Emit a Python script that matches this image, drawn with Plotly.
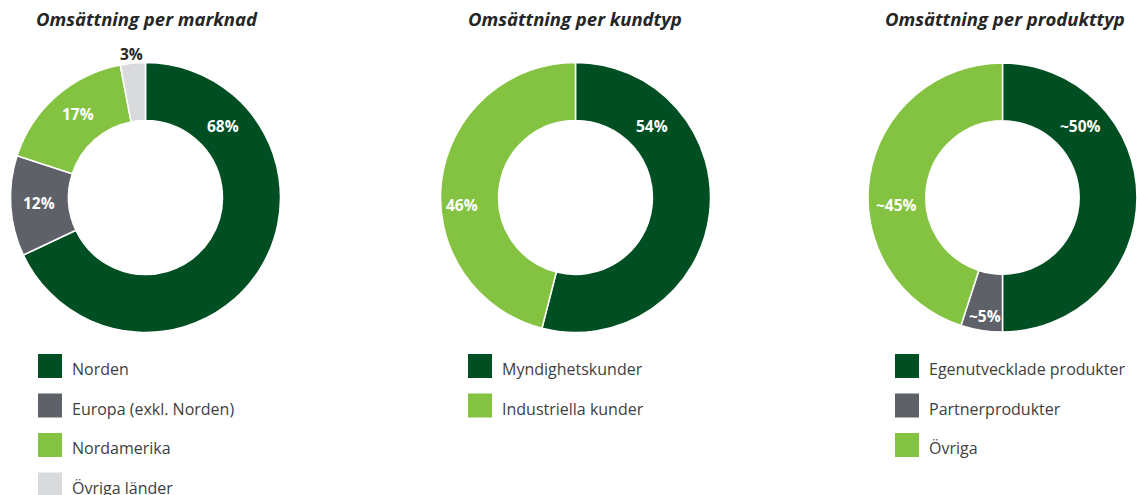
import math
import plotly.graph_objects as go

W, H = 1137, 495

# ---- data ----
titles = ["Omsättning per marknad", "Omsättning per kundtyp", "Omsättning per produkttyp"]

market_labels = ["Norden", "Europa (exkl. Norden)", "Nordamerika", "Övriga länder"]
market_values = [68, 12, 17, 3]
market_text = ["68%", "12%", "17%", "3%"]

customer_labels = ["Myndighetskunder", "Industriella kunder"]
customer_values = [54, 46]
customer_text = ["54%", "46%"]

product_labels = ["Egenutvecklade produkter", "Partnerprodukter", "Övriga"]
product_values = [50, 5, 45]
product_text = ["~50%", "~5%", "~45%"]

# ---- styles ----
DARK = "#004F23"
GREY = "#5E6168"
LIGHT = "#84C341"
PALE = "#D9DADC"
FONT = "Open Sans"

charts = [
    dict(labels=market_labels, values=market_values, text=market_text,
         colors=[DARK, GREY, LIGHT, PALE], cx=145.5, cy=197.5,
         lab_ang=[47.3, 267.0, 321.0, 354.3], lab_r=[105, 107, 107, 144],
         lab_col=["white", "white", "white", "#262626"],
         legend_x=38, title_cx=147),
    dict(labels=customer_labels, values=customer_values, text=customer_text,
         colors=[DARK, LIGHT], cx=575.5, cy=197.5,
         lab_ang=[47.0, 266.0], lab_r=[105, 114],
         lab_col=["white", "white"],
         legend_x=468, title_cx=575),
    dict(labels=product_labels, values=product_values, text=product_text,
         colors=[DARK, GREY, LIGHT], cx=1003, cy=197.5,
         lab_ang=[47.5, 188.5, 266.0], lab_r=[106, 120, 107],
         lab_col=["white", "white", "white"],
         legend_x=895, title_cx=1005),
]
R = 135
HOLE = 0.57
SQ = 24
LEG_Y0 = 354
LEG_STEP = 39.5

fig = go.Figure()
annotations = []
shapes = []

for i, c in enumerate(charts):
    x0 = max(0, (c["cx"] - R) / W)
    x1 = min(1, (c["cx"] + R) / W)
    y0 = 1 - (c["cy"] + R) / H
    y1 = 1 - (c["cy"] - R) / H
    fig.add_trace(go.Pie(
        labels=c["labels"], values=c["values"],
        domain=dict(x=[x0, x1], y=[y0, y1]),
        hole=HOLE, sort=False, direction="clockwise", rotation=0,
        marker=dict(colors=c["colors"], line=dict(color="white", width=1.5)),
        textinfo="none", showlegend=False, hoverinfo="label+percent",
    ))
    # actual center used by plotly (domain may be clipped)
    cxp = (x0 + x1) / 2 * W
    rr = min((x1 - x0) * W, (y1 - y0) * H) / 2
    scale = rr / R
    for t, ang, r, col in zip(c["text"], c["lab_ang"], c["lab_r"], c["lab_col"]):
        a = math.radians(ang)
        px = cxp + r * scale * math.sin(a)
        py = c["cy"] - r * scale * math.cos(a)
        annotations.append(dict(
            x=px / W, y=1 - py / H, xref="paper", yref="paper",
            text=f"<b>{t}</b>", showarrow=False,
            font=dict(family=FONT, size=15.5, color=col),
            xanchor="center", yanchor="middle"))
    # title
    annotations.append(dict(
        x=c["title_cx"] / W, y=1 - 18 / H, xref="paper", yref="paper",
        text=f"<b><i>{titles[i]}</i></b>", showarrow=False,
        font=dict(family=FONT, size=18.5, color="#262626"),
        xanchor="center", yanchor="middle"))
    # legend
    for j, (lab, col) in enumerate(zip(c["labels"], c["colors"])):
        top = LEG_Y0 + j * LEG_STEP
        shapes.append(dict(
            type="rect", xref="paper", yref="paper",
            x0=c["legend_x"] / W, x1=(c["legend_x"] + SQ) / W,
            y0=1 - (top + SQ) / H, y1=1 - top / H,
            fillcolor=col, line=dict(width=0)))
        annotations.append(dict(
            x=(c["legend_x"] + SQ + 8) / W, y=1 - (top + SQ / 2 + 3) / H,
            xref="paper", yref="paper", text=lab, showarrow=False,
            font=dict(family=FONT, size=16, color="#404040"),
            xanchor="left", yanchor="middle"))

fig.update_layout(
    width=W, height=H,
    margin=dict(l=0, r=0, t=0, b=0),
    paper_bgcolor="white", plot_bgcolor="white",
    annotations=annotations, shapes=shapes,
    showlegend=False,
)

fig.write_html("out.html")
